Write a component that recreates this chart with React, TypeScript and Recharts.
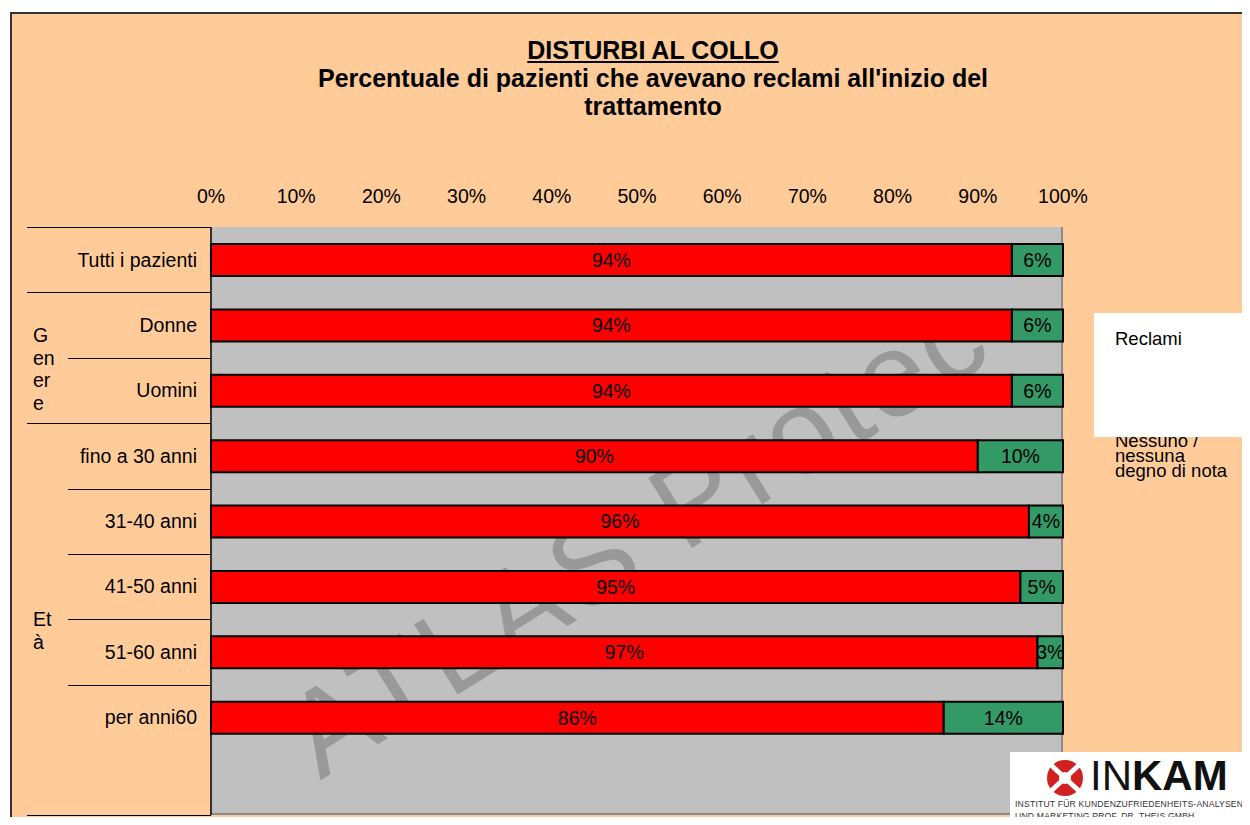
import { BarChart, Bar, XAxis, YAxis, LabelList, Legend } from 'recharts'

// ---- data ----
const categories = [
  'Tutti i pazienti',
  'Donne',
  'Uomini',
  'fino a 30 anni',
  '31-40 anni',
  '41-50 anni',
  '51-60 anni',
  'per anni60',
]
const reclami = [0.94, 0.94, 0.94, 0.9, 0.96, 0.95, 0.97, 0.86]
const nessuno = [0.06, 0.06, 0.06, 0.1, 0.04, 0.05, 0.03, 0.14]
const xTicks = [0, 0.1, 0.2, 0.3, 0.4, 0.5, 0.6, 0.7, 0.8, 0.9, 1]
const groupLabels = ['Genere', 'Età']

const data = categories.map((name, i) => ({
  name,
  reclami: reclami[i],
  nessuno: nessuno[i],
}))

// ---- layout ----
const W = 1242
const H = 817
const MARGIN = { top: 169, right: 187, bottom: 10, left: 0 }
const X_AXIS_H = 50
const Y_AXIS_W = 203
const PAD_BOTTOM = 65
const PLOT_LEFT = MARGIN.left + Y_AXIS_W
const PLOT_TOP = MARGIN.top + X_AXIS_H
const PLOT_W = W - MARGIN.right - PLOT_LEFT
const PLOT_H = H - MARGIN.bottom - PLOT_TOP
const BAND = (PLOT_H - PAD_BOTTOM) / categories.length

const FONT = '"Liberation Sans", Arial, Helvetica, sans-serif'
const ORANGE = '#FFCC99'
const RED = '#FF0000'
const GREEN = '#339966'

const pct = (v: number) => `${Math.round(v * 100)}%`

// lines of the two-level category axis (full = crosses group column too)
const separators = [
  { k: 0, full: true },
  { k: 1, full: true },
  { k: 2, full: false },
  { k: 3, full: true },
  { k: 4, full: false },
  { k: 5, full: false },
  { k: 6, full: false },
  { k: 7, full: false },
  { k: 8, full: true },
]

function ChartLegend({ payload }: { payload?: { value: string }[] }) {
  if (!payload) return null
  return (
    <div style={{ position: 'relative', width: 156, height: 175, fontFamily: FONT }}>
      <div
        style={{
          position: 'absolute',
          left: 0,
          top: 0,
          width: 156,
          height: 124,
          background: '#fff',
          zIndex: 1,
        }}
      />
      {payload.map((entry, i) => {
        const first = entry.value === 'Reclami'
        return (
          <div
            key={i}
            style={{
              position: 'absolute',
              left: 21,
              top: first ? 18 : 120,
              width: 125,
              fontSize: 18.5,
              lineHeight: '15px',
              color: '#000',
              zIndex: first ? 2 : 0,
            }}
          >
            {entry.value}
          </div>
        )
      })}
    </div>
  )
}

function Logo() {
  return (
    <div
      style={{
        position: 'absolute',
        left: 1002,
        top: 744,
        width: 240,
        height: 80,
        background: '#fff',
        fontFamily: FONT,
        overflow: 'hidden',
      }}
    >
      <svg width={44} height={40} style={{ position: 'absolute', left: 35, top: 6 }}>
        <circle cx={20} cy={20} r={18} fill="#d21f1f" />
        <line x1={6} y1={7} x2={34} y2={33} stroke="#fff" strokeWidth={5} />
        <line x1={34} y1={7} x2={6} y2={33} stroke="#fff" strokeWidth={5} />
        <circle cx={20} cy={20} r={6} fill="#fff" />
      </svg>
      <div
        style={{
          position: 'absolute',
          left: 80,
          top: 1,
          fontSize: 42,
          lineHeight: '46px',
          color: '#111',
          whiteSpace: 'nowrap',
        }}
      >
        <span style={{ fontWeight: 300 }}>IN</span>
        <span style={{ fontWeight: 900 }}>KAM</span>
      </div>
      <div
        style={{
          position: 'absolute',
          left: 5,
          top: 46,
          fontSize: 8.6,
          lineHeight: '12px',
          color: '#333',
          whiteSpace: 'nowrap',
          letterSpacing: 0.2,
        }}
      >
        INSTITUT FÜR KUNDENZUFRIEDENHEITS-ANALYSEN
        <br />
        UND MARKETING PROF. DR. THEIS GMBH
      </div>
    </div>
  )
}

export default function App() {
  return (
    <div
      style={{
        position: 'relative',
        width: W,
        height: H,
        marginBottom: -8,
        overflow: 'hidden',
        fontFamily: FONT,
      }}
    >
      <style>{'body{overflow:hidden}'}</style>
      {/* frame */}
      <div
        style={{
          position: 'absolute',
          left: 2,
          top: 4,
          width: W,
          height: H,
          background: ORANGE,
          borderLeft: '2px solid #333',
          borderTop: '2px solid #333',
        }}
      />

      {/* title */}
      <div
        style={{
          position: 'absolute',
          left: 295,
          top: 28,
          width: 700,
          textAlign: 'center',
          fontWeight: 'bold',
          fontSize: 25,
          lineHeight: '28px',
          color: '#000',
        }}
      >
        <div style={{ textDecoration: 'underline' }}>DISTURBI AL COLLO</div>
        <div>Percentuale di pazienti che avevano reclami all'inizio del trattamento</div>
      </div>

      {/* plot background + watermark */}
      <div
        style={{
          position: 'absolute',
          left: PLOT_LEFT,
          top: PLOT_TOP,
          width: PLOT_W,
          height: PLOT_H,
          background: '#C0C0C0',
          borderRight: '2px solid #8a8a8a',
          borderBottom: '2px solid #8a8a8a',
          boxSizing: 'border-box',
          overflow: 'hidden',
        }}
      >
        <div
          style={{
            position: 'absolute',
            left: PLOT_W * 0.5,
            top: PLOT_H * 0.52,
            transform: 'translate(-50%, -50%) rotate(-32deg)',
            fontSize: 120,
            lineHeight: '130px',
            color: '#999999',
            whiteSpace: 'nowrap',
            letterSpacing: 4,
          }}
        >
          ATLAS Protec
        </div>
      </div>

      {/* category axis separators */}
      {separators.map((s) => (
        <div
          key={s.k}
          style={{
            position: 'absolute',
            left: s.full ? 19 : 60,
            top: s.k === 8 ? PLOT_TOP + PLOT_H : PLOT_TOP + BAND * s.k,
            width: PLOT_LEFT - (s.full ? 19 : 60),
            height: 1,
            background: '#000',
          }}
        />
      ))}

      {/* group labels */}
      {groupLabels.map((g, i) => (
        <div
          key={g}
          style={{
            position: 'absolute',
            left: 25,
            top: i === 0 ? 316 : 600,
            width: 23,
            fontSize: 19.5,
            lineHeight: '22.5px',
            wordBreak: 'break-all',
            color: '#000',
          }}
        >
          {g}
        </div>
      ))}

      <div style={{ position: 'absolute', left: 0, top: 0 }}>
        <BarChart width={W} height={H} data={data} layout="vertical" margin={MARGIN} barSize={32}>
          <XAxis
            type="number"
            orientation="top"
            domain={[0, 1]}
            ticks={xTicks}
            tickFormatter={pct}
            height={X_AXIS_H}
            axisLine={false}
            tickLine={false}
            tickSize={0}
            tickMargin={24}
            tick={{ fill: '#000', fontSize: 19.5, fontFamily: FONT }}
            interval={0}
          />
          <YAxis
            type="category"
            dataKey="name"
            width={Y_AXIS_W}
            padding={{ top: 0, bottom: PAD_BOTTOM }}
            axisLine={{ stroke: '#000', strokeWidth: 1.5 }}
            tickLine={false}
            tickSize={0}
            tickMargin={14}
            tick={{ fill: '#000', fontSize: 19.5, fontFamily: FONT }}
            interval={0}
          />
          <Legend
            layout="horizontal"
            align="center"
            verticalAlign="middle"
            wrapperStyle={{ left: 1086, top: 305, width: 156 }}
            content={<ChartLegend />}
          />
          <Bar
            dataKey="reclami"
            name="Reclami"
            stackId="a"
            fill={RED}
            stroke="#000"
            strokeWidth={2}
            isAnimationActive={false}
          >
            <LabelList
              dataKey="reclami"
              position="center"
              formatter={(v: number) => pct(v)}
              fill="#000"
              fontSize={19.5}
              fontFamily={FONT}
            />
          </Bar>
          <Bar
            dataKey="nessuno"
            name="Nessuno / nessuna degno di nota"
            stackId="a"
            fill={GREEN}
            stroke="#000"
            strokeWidth={2}
            isAnimationActive={false}
          >
            <LabelList
              dataKey="nessuno"
              position="center"
              formatter={(v: number) => pct(v)}
              fill="#000"
              fontSize={19.5}
              fontFamily={FONT}
            />
          </Bar>
        </BarChart>
      </div>

      <Logo />
    </div>
  )
}
